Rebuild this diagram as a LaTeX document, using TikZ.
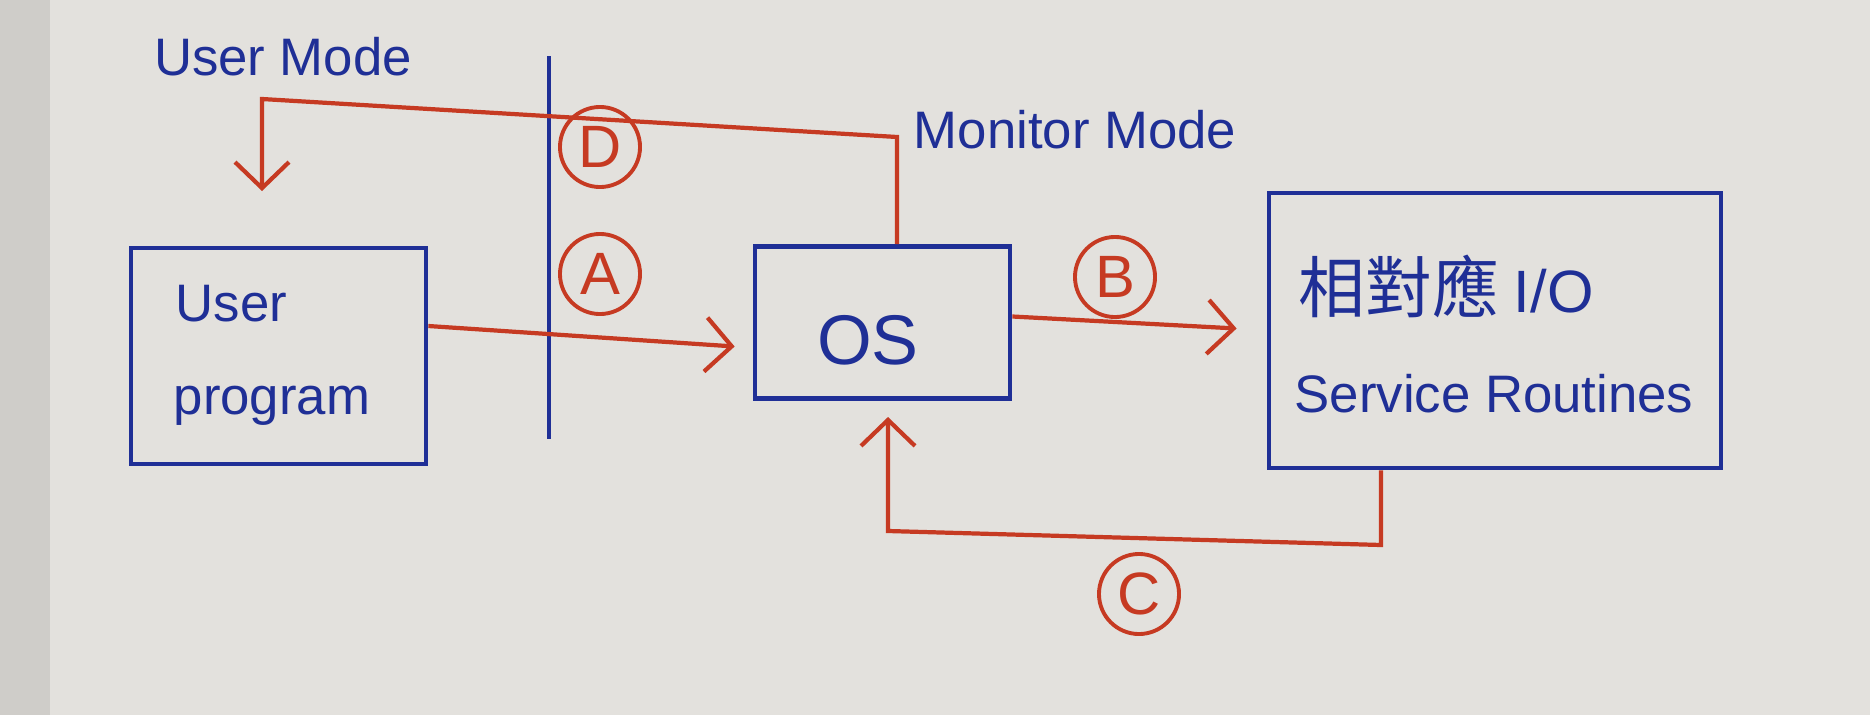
\documentclass[tikz,border=0pt]{standalone}
\usepackage{fontspec}
\setmainfont{Liberation Sans}
\newfontfamily\cjk{Noto Sans CJK TC}
\usetikzlibrary{arrows.meta,calc}
\definecolor{pen}{HTML}{1F2F96}
\definecolor{ink}{HTML}{C63A22}
\definecolor{paper}{HTML}{E3E1DD}
\definecolor{edge}{HTML}{CFCDC9}
\begin{document}
\begin{tikzpicture}[x=0.01cm,y=-0.01cm,
  box/.style={draw=pen, line width=1.3pt, inner sep=0pt},
  lbl/.style={text=pen, font=\fontsize{15}{18}\selectfont, inner sep=0pt},
  circ/.style={circle, draw=ink, text=ink, line width=1.1pt, minimum size=0.8cm, inner sep=0pt, font=\fontsize{17}{19}\selectfont},
  flow/.style={draw=ink, line width=1.2pt, -{Straight Barb[length=2.6mm,width=5.4mm,line width=1.2pt]}},
  divider/.style={draw=pen, line width=1.2pt},
]
\fill[paper] (0,0) rectangle (1870,715);
\fill[edge] (0,0) rectangle (50,715);
\useasboundingbox (0,0) rectangle (1870,715);

% boxes
\node[box, minimum width=2.95cm, minimum height=2.16cm] (up) at (278.5,356) {};
\node[box, minimum width=2.55cm, minimum height=1.52cm] (os) at (882.5,322.5) {};
\node[box, minimum width=4.52cm, minimum height=2.75cm] (sr) at (1495,330.5) {};

% texts
\node[lbl] (um) at (283,57) {User Mode};
\node[lbl] (mm) at (1075,130) {Monitor Mode};
\node[lbl, anchor=west] (t1) at (175,304) {User};
\node[lbl, anchor=west] (t2) at (173,406) {program};
\node[lbl, font=\fontsize{20}{24}\selectfont] (t3) at (868,340) {OS};
\node[lbl, anchor=west] (t4) at (1298,286) {{\cjk\fontsize{19}{22}\selectfont 相對應} {\fontsize{17}{20}\selectfont I/O}};
\node[lbl, anchor=west] (t5) at (1294,394) {Service Routines};

% divider
\coordinate (dv1) at (549,56);
\coordinate (dv2) at (549,439);
\draw[divider] (dv1) -- (dv2);

% circled labels
\node[circ] (cd) at (600,147) {D};
\node[circ] (ca) at (600,274) {A};
\node[circ] (cb) at (1115,277) {B};
\node[circ] (cc) at (1139,594) {C};

% connectors
\draw[flow] ($(up.east)+(0,-30)$) -- ($(os.west)+(-18,24)$);
\draw[flow] ($(os.east)+(0,-6)$) -- ($(sr.west)+(-30,-2)$);

\coordinate (d1) at (897,137);
\coordinate (d2) at (262,99);
\coordinate (d3) at (262,191);
\draw[flow] ($(os.north)+(14.5,0)$) -- (d1) -- (d2) -- (d3);

\coordinate (c1) at (1381,545);
\coordinate (c2) at (888,531);
\coordinate (c3) at (888,417);
\draw[flow] ($(sr.south)+(-114,0)$) -- (c1) -- (c2) -- (c3);
\end{tikzpicture}
\end{document}
